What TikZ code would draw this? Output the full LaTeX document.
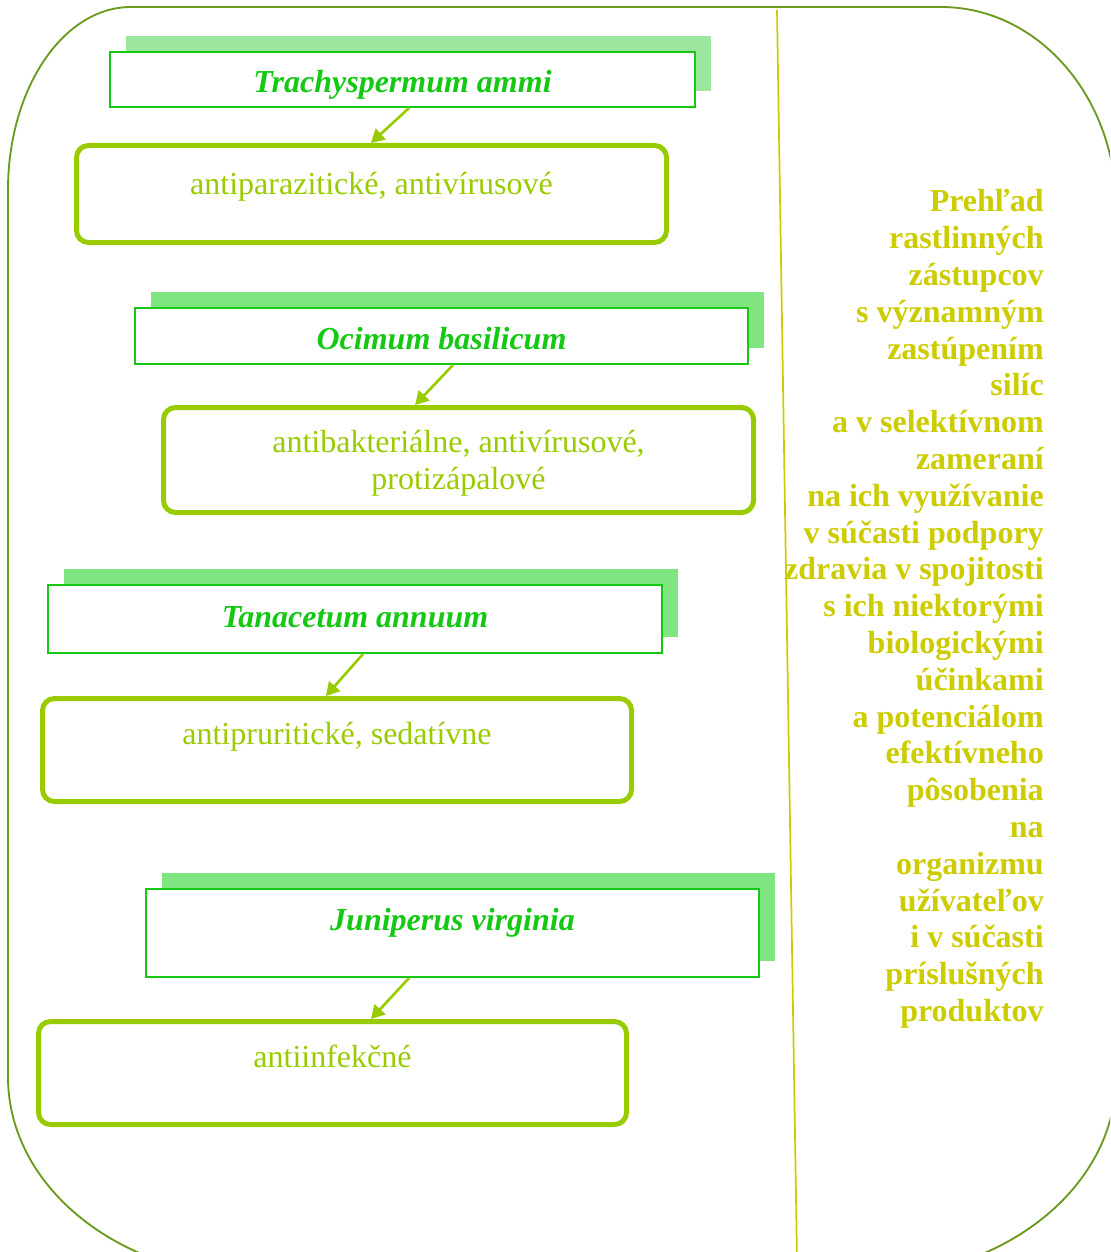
\documentclass[tikz,border=0pt]{standalone}
\usepackage{fontspec}
\setmainfont{Liberation Serif}
\usetikzlibrary{arrows.meta,shadows}
\definecolor{framegreen}{RGB}{107,155,30}
\definecolor{divyellow}{RGB}{204,204,0}
\definecolor{titlegreen}{RGB}{20,200,20}
\definecolor{shadowA}{RGB}{157,230,157}
\definecolor{shadowB}{RGB}{128,229,128}
\definecolor{effgreen}{RGB}{153,204,0}
\begin{document}
\begin{tikzpicture}[x=0.75pt,y=-0.75pt,
  titlebox/.style={draw=titlegreen, line width=1.5pt, fill=white,
    font=\fontsize{24pt}{27.6pt}\selectfont\bfseries\itshape, text=titlegreen,
    inner sep=0pt, text height=24.5pt, text depth=5pt,
    general shadow={fill=#1, shadow xshift=12pt, shadow yshift=12pt}},
  titlebox/.default=shadowB,
  effbox/.style={draw=effgreen, line width=3.75pt, rounded corners=9pt, fill=white,
    font=\fontsize{24pt}{27.6pt}\selectfont, text=effgreen, align=center, inner sep=0pt},
  oneline/.style={text height=18pt, text depth=#1},
  arr/.style={draw=effgreen, line width=2pt, -{Triangle[length=10pt,width=11pt]}},
  frame/.style={draw=framegreen, line width=1.4pt},
  divider/.style={draw=divyellow, line width=1.3pt},
  summary/.style={font=\fontsize{24pt}{27.6pt}\selectfont\bfseries, text=divyellow,
    align=right, inner sep=0pt}
]
\useasboundingbox (0,0) rectangle (1110,1252);
\clip (0,0) rectangle (1110,1252);

% outer rounded frame
\draw[frame] (8,190) .. controls (8,89) and (63,7) .. (131,7) -- (941,7)
  .. controls (1038,7) and (1116,97) .. (1116,207) -- (1116,1077)
  .. controls (1116,1187) and (1004,1277) .. (866,1277) -- (258,1277)
  .. controls (120,1277) and (8,1187) .. (8,1077) -- cycle;

% divider
\coordinate (divtop) at (777,10);
\coordinate (divbot) at (797,1260);
\draw[divider] (divtop) -- (divbot);

% title boxes
\node[titlebox=shadowA, minimum width=438.75pt, minimum height=41.25pt] (t1) at (402.5,79.5) {Trachyspermum ammi};
\node[titlebox, minimum width=459.75pt, minimum height=42pt] (t2) at (441.5,336) {Ocimum basilicum};
\node[titlebox, minimum width=460.5pt, minimum height=51pt, text height=17pt] (t3) at (355,619) {Tanacetum annuum};
\node[titlebox, minimum width=459.75pt, minimum height=66pt, text height=17pt, text depth=20.8pt] (t4) at (452.5,933) {Juniperus virginia};

% effect boxes
\node[effbox, oneline=17pt, minimum width=442.5pt, minimum height=72.75pt] (r1) at (371.5,194) {antiparazitické, antivírusové};
\node[effbox, minimum width=442.5pt, minimum height=78.75pt, text height=49.5pt, text depth=5pt] (r2) at (458.5,460) {antibakteriálne, antivírusové,\\protizápalové};
\node[effbox, oneline=26pt, minimum width=441.75pt, minimum height=77.25pt] (r3) at (337,750) {antipruritické, sedatívne};
\node[effbox, oneline=27pt, minimum width=441pt, minimum height=77.25pt] (r4) at (332.5,1073) {antiinfekčné};

% arrows
\draw[arr] ([xshift=4.9pt]t1.south) -- ([xshift=-0.4pt]r1.north);
\draw[arr] ([xshift=8.6pt]t2.south) -- ([xshift=-32.6pt]r2.north);
\draw[arr] ([xshift=6pt]t3.south) -- ([xshift=-8.3pt]r3.north);
\draw[arr] ([xshift=-32.6pt]t4.south) -- ([xshift=28.9pt]r4.north);

% summary text
\node[summary, anchor=north east] (sum) at (1044,189.5) {Prehľad\\rastlinných\\zástupcov\\s významným\\zastúpením\\silíc\\a v selektívnom\\zameraní\\na ich využívanie\\v súčasti podpory\\zdravia v spojitosti\\s ich niektorými\\biologickými\\účinkami\\a potenciálom\\efektívneho\\pôsobenia\\na\\organizmu\\užívateľov\\i v súčasti\\príslušných\\produktov};
\end{tikzpicture}
\end{document}
